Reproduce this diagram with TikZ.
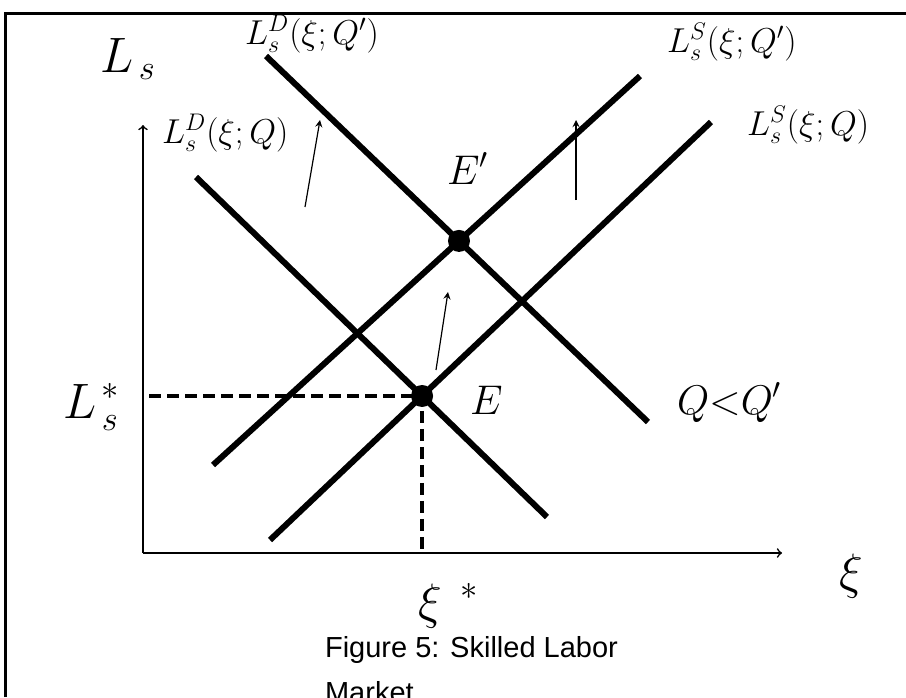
\documentclass[tikz,border=0pt]{standalone}
\usepackage{fontspec}
\newfontfamily\capfont{Liberation Sans}
\begin{document}
\begin{tikzpicture}[x=0.5pt,y=-0.5pt,
		curve/.style={line width=3pt},
		guide/.style={line width=2pt, dash pattern=on 6pt off 3pt},
		shiftarrow/.style={-stealth, line width=0.6pt},
		lbl/.style={anchor=base west, font=\fontsize{16.5}{19}\selectfont},
		midlbl/.style={anchor=base west, font=\fontsize{20}{24}\selectfont},
		biglbl/.style={anchor=base west, font=\fontsize{23}{27}\selectfont}]
	\useasboundingbox (0,0) rectangle (906,697);
	\draw[line width=1.5pt] (5,697) -- (5,13) -- (906,13);
	
	% axes
	\coordinate (O) at (143,553);
	\coordinate (ytop) at (143,125);
	\coordinate (xend) at (782,553);
	\draw[->, line width=0.8pt] (O) -- (ytop);
	\draw[->, line width=0.8pt] (O) -- (xend);
	\node[biglbl] (ylab) at (93,72) {$L_{\,s}$};
	\node[biglbl] (xlab) at (832,588) {$\xi$};
	
	% demand and supply, before and after
	\coordinate (d0a) at (196,177); \coordinate (d0b) at (547,517);
	\coordinate (d1a) at (266,56);  \coordinate (d1b) at (648,422);
	\coordinate (s0a) at (270,540); \coordinate (s0b) at (711,122);
	\coordinate (s1a) at (213,465); \coordinate (s1b) at (640,76);
	\draw[curve] (d0a) -- (d0b);
	\draw[curve] (d1a) -- (d1b);
	\draw[curve] (s0a) -- (s0b);
	\draw[curve] (s1a) -- (s1b);
	
	\node[lbl] (d1lab) at (238,44) {$L_s^D(\xi;Q')$};
	\node[lbl] (d0lab) at (155,143) {$L_s^D(\xi;Q)$};
	\node[lbl] (s1lab) at (660,52) {$L_s^S(\xi;Q')$};
	\node[lbl] (s0lab) at (740,135) {$L_s^S(\xi;Q)$};
	
	% equilibria
	\coordinate (E) at (intersection of d0a--d0b and s0a--s0b);
	\coordinate (Ep) at (intersection of d1a--d1b and s1a--s1b);
	\fill (E) circle (5.5pt);
	\fill (Ep) circle (5.5pt);
	\node[midlbl] (Elab) at (463,414) {$E$};
	\node[midlbl] (Eplab) at (440,184) {$E'$};
	\node[midlbl] (cmp) at (670,414) {$Q{<}Q'$};
	
	% dashed guides to the axes
	\coordinate (Ey) at ([xshift=3pt]O |- E);
	\coordinate (Ex) at (E |- O);
	\draw[guide] (Ey) -- (E) -- (Ex);
	\node[biglbl] (Lstar) at (56,418) {$L_{\,s}^{\,*}$};
	\node[biglbl] (xistar) at (411,618) {$\xi^{\;\;*}$};
	
	% shifts
	\coordinate (a1a) at (305,207); \coordinate (a1b) at (320,120);
	\coordinate (a2a) at (576,200); \coordinate (a2b) at (576,120);
	\coordinate (a3a) at (436,370); \coordinate (a3b) at (448,292);
	\draw[shiftarrow] (a1a) -- (a1b);
	\draw[shiftarrow] (a2a) -- (a2b);
	\draw[shiftarrow] (a3a) -- (a3b);
	
	\node[anchor=base west, font=\capfont\fontsize{14.5}{17}\selectfont] (cap1) at (318,657) {Figure 5: Skilled Labor};
	\node[anchor=base west, font=\capfont\fontsize{14.5}{17}\selectfont] (cap2) at (318,702) {Market};
\end{tikzpicture}
\end{document}
